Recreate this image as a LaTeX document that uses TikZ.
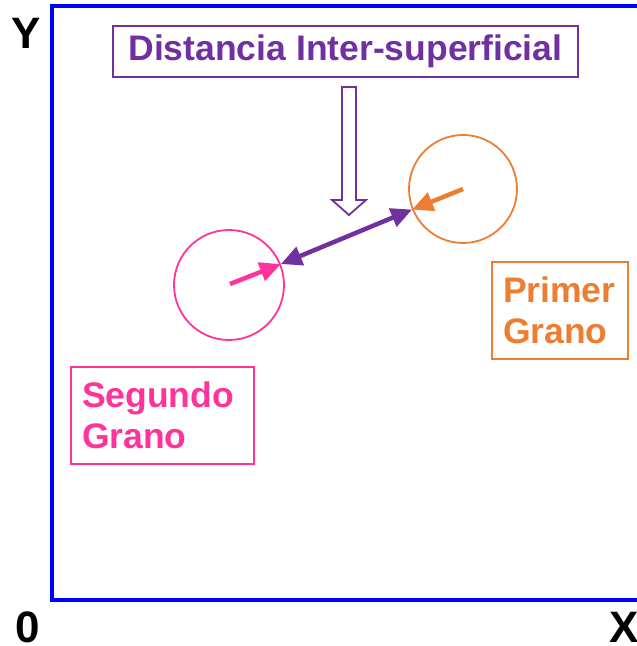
\documentclass[tikz,border=0pt]{standalone}
\usepackage{fontspec}
\setmainfont{Liberation Sans}
\usetikzlibrary{arrows.meta}
\definecolor{cpurple}{RGB}{112,48,160}
\definecolor{corange}{RGB}{237,125,49}
\definecolor{cpink}{RGB}{255,51,153}
\definecolor{cblue}{RGB}{0,0,255}
\tikzset{
  bigtxt/.style={font=\bfseries\fontsize{35.5}{41}\selectfont},
  axlbl/.style={font=\bfseries\fontsize{44}{48}\selectfont, text=black, inner sep=0pt},
  labelbox/.style={bigtxt, draw, line width=1.8pt, inner sep=0pt, align=left},
  grain/.style={circle, draw, line width=1.8pt, inner sep=0pt},
  thickarrow/.style={line width=4.5pt, -{Triangle[length=21pt,width=19pt]}},
}
\begin{document}
\begin{tikzpicture}[x=1pt,y=1pt]
\useasboundingbox (0,0) rectangle (637,646);
\clip (0,0) rectangle (637,646);
% frame
\draw[cblue, line width=4pt] (52,46) rectangle (680,640);
% axis labels
\node[axlbl] (ylab) at (26.5,612.5) {Y};
\node[axlbl] (zero) at (28,19) {0};
\node[axlbl] (xlab) at (624.5,19) {X};
% title box
\node[labelbox, draw=cpurple, text=cpurple, minimum width=465pt, minimum height=51pt, align=center] (title) at (345.5,594.5) {Distancia Inter-superficial};
% hollow arrow
\draw[cpurple, line width=1.8pt, fill=white, line join=miter]
  (342,559) -- (356,559) -- (356,446) -- (366,446) -- (349,431) -- (332,446) -- (342,446) -- cycle;
% grains
\node[grain, draw=corange, minimum size=108pt] (g1) at (463,457) {};
\node[grain, draw=cpink, minimum size=110pt] (g2) at (229,361) {};
\coordinate (c1) at (463,457);
\coordinate (c2) at (230,362);
% boxes
\node[labelbox, draw=corange, text=corange, minimum width=136pt, minimum height=97pt, text width=114pt] (primer) at (560,335.5) {Primer\\Grano};
\node[labelbox, draw=cpink, text=cpink, minimum width=183pt, minimum height=97pt, text width=161pt] (segundo) at (162.5,230.5) {Segundo\\Grano};
% arrows
\draw[cpurple, line width=4.5pt, {Triangle[length=21pt,width=19pt]}-{Triangle[length=21pt,width=19pt]}] (g2.22) -- (g1.202);
\draw[corange, thickarrow] (c1) -- (g1.202);
\draw[cpink, thickarrow] (c2) -- (g2.22);
\end{tikzpicture}
\end{document}
